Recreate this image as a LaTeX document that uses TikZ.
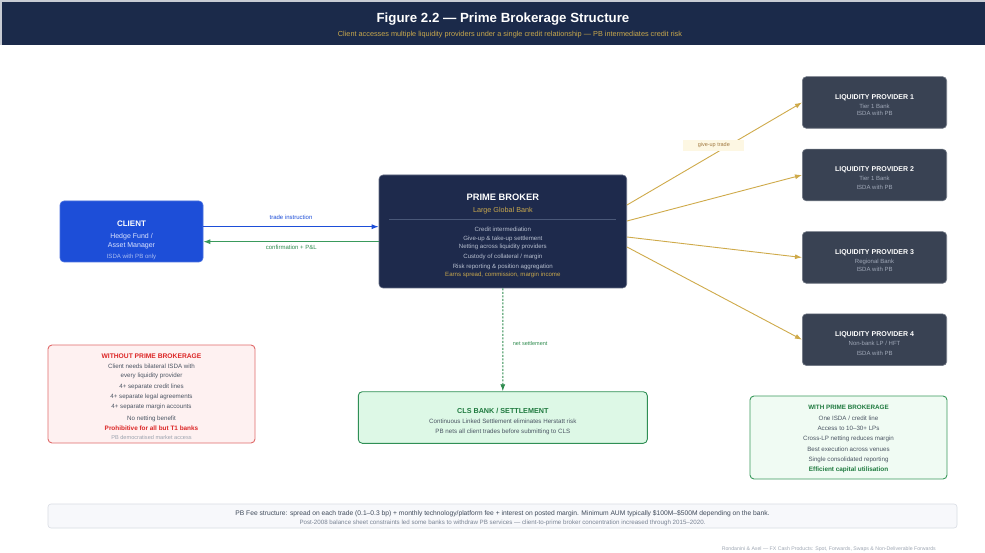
\documentclass[tikz,border=0pt]{standalone}
\usepackage{fontspec}
\setmainfont{Liberation Sans}
\usetikzlibrary{arrows.meta}

\definecolor{hdrnavy}{HTML}{1B2A4A}
\definecolor{pbnavy}{HTML}{1E2A4C}
\definecolor{gold}{HTML}{C9A84C}
\definecolor{pbitem}{HTML}{B8C0D0}
\definecolor{pbrule}{HTML}{4A5878}
\definecolor{clientblue}{HTML}{1D4ED8}
\definecolor{clientsub}{HTML}{DCE4FF}
\definecolor{clientisda}{HTML}{A9BCF0}
\definecolor{lpfill}{HTML}{394253}
\definecolor{lpsub}{HTML}{A0A8B8}
\definecolor{arrowgreen}{HTML}{3A9A5C}
\definecolor{labelgreen}{HTML}{2E8B4E}
\definecolor{arrowgold}{HTML}{CFAA4A}
\definecolor{giveupfill}{HTML}{FDF7E3}
\definecolor{giveuptext}{HTML}{A07840}
\definecolor{clsfill}{HTML}{DDF8E6}
\definecolor{clsborder}{HTML}{2F8F55}
\definecolor{darkgreen}{HTML}{1F7A3F}
\definecolor{bodygray}{HTML}{4B5563}
\definecolor{lightgray}{HTML}{9CA3AF}
\definecolor{redfill}{HTML}{FEF1F1}
\definecolor{redborder}{HTML}{E06A6A}
\definecolor{redtitle}{HTML}{DC2626}
\definecolor{withfill}{HTML}{F0FBF3}
\definecolor{footfill}{HTML}{F7F8FB}
\definecolor{footborder}{HTML}{D8DCE4}
\definecolor{footone}{HTML}{3F4A5A}
\definecolor{foottwo}{HTML}{7A8494}
\definecolor{credit}{HTML}{A0A8B4}
\definecolor{edge}{HTML}{C8CCD4}

\tikzset{
  fs/.style={font=\fontsize{#1}{#1}\selectfont},
  txt/.style={inner sep=0pt, anchor=base},
  box/.style={rectangle, rounded corners=4pt, inner sep=0pt},
  clientbox/.style={box, fill=clientblue, draw=clientblue!80!white, line width=0.6pt},
  pbbox/.style={box, fill=pbnavy, draw=pbnavy!70!white, line width=0.6pt},
  lpbox/.style={box, fill=lpfill, draw=lpfill!70!white, line width=0.6pt,
                minimum width=144.4pt, minimum height=51.6pt},
  notebox/.style={box, line width=0.9pt},
  tip/.style={-{Latex[length=7pt,width=5pt]}},
}

\begin{document}
\begin{tikzpicture}[x=1pt,y=-1pt]
  % canvas
  \fill[white] (0,0) rectangle (985,553);
  \useasboundingbox (0,0) rectangle (985,553);

  % header band
  \fill[edge] (0,0) rectangle (985,45);
  \fill[hdrnavy] (2,2) rectangle (985,45);
  \node[txt, fs=13.3, text=white] (title) at (503,22.6) {\bfseries Figure 2.2 — Prime Brokerage Structure};
  \node[txt, fs=7.3, text=gold] (subtitle) at (510,36.5) {Client accesses multiple liquidity providers under a single credit relationship — PB intermediates credit risk};

  % client
  \node[clientbox, minimum width=143pt, minimum height=61pt] (client) at (131.5,231.5) {};
  \node[txt, fs=8, text=white] (clientT) at (131.5,226.9) {\bfseries CLIENT};
  \node[txt, fs=7, text=clientsub] (clientA) at (131.5,238.5) {Hedge Fund /};
  \node[txt, fs=7, text=clientsub] (clientB) at (131.5,247.2) {Asset Manager};
  \node[txt, fs=6.1, text=clientisda] (clientC) at (131.5,258.1) {ISDA with PB only};

  % prime broker
  \node[pbbox, minimum width=247.7pt, minimum height=113pt] (pb) at (502.85,231.5) {};
  \node[txt, fs=9.3, text=white] (pbT) at (502.85,200.7) {\bfseries PRIME BROKER};
  \node[txt, fs=7.2, text=gold] (pbS) at (502.85,212.8) {Large Global Bank};
  \draw[pbrule, line width=0.6pt] (389,219.3) -- (616,219.3);
  \node[txt, fs=6.1, text=pbitem] (pb1) at (502.85,231.2) {Credit intermediation};
  \node[txt, fs=6.1, text=pbitem] (pb2) at (502.85,240.2) {Give-up \& take-up settlement};
  \node[txt, fs=6.1, text=pbitem] (pb3) at (502.85,248.9) {Netting across liquidity providers};
  \node[txt, fs=6.1, text=pbitem] (pb4) at (502.85,258.9) {Custody of collateral / margin};
  \node[txt, fs=6.1, text=pbitem] (pb5) at (502.85,268.2) {Risk reporting \& position aggregation};
  \node[txt, fs=6.1, text=gold] (pb6) at (502.85,276.9) {Earns spread, commission, margin income};

  % liquidity providers
  \node[lpbox] (lp1) at (874.5,102.5) {};
  \node[txt, fs=7, text=white] (lp1T) at (874.5,99.2) {\bfseries LIQUIDITY PROVIDER 1};
  \node[txt, fs=6, text=lpsub] (lp1A) at (874.5,108.1) {Tier 1 Bank};
  \node[txt, fs=6, text=lpsub] (lp1B) at (874.5,115.8) {ISDA with PB};

  \node[lpbox] (lp2) at (874.5,175) {};
  \node[txt, fs=7, text=white] (lp2T) at (874.5,171.2) {\bfseries LIQUIDITY PROVIDER 2};
  \node[txt, fs=6, text=lpsub] (lp2A) at (874.5,180.1) {Tier 1 Bank};
  \node[txt, fs=6, text=lpsub] (lp2B) at (874.5,189.4) {ISDA with PB};

  \node[lpbox] (lp3) at (874.5,257.5) {};
  \node[txt, fs=7, text=white] (lp3T) at (874.5,254.2) {\bfseries LIQUIDITY PROVIDER 3};
  \node[txt, fs=6, text=lpsub] (lp3A) at (874.5,263.1) {Regional Bank};
  \node[txt, fs=6, text=lpsub] (lp3B) at (874.5,271.8) {ISDA with PB};

  \node[lpbox] (lp4) at (874.5,339.7) {};
  \node[txt, fs=7, text=white] (lp4T) at (874.5,336.2) {\bfseries LIQUIDITY PROVIDER 4};
  \node[txt, fs=6, text=lpsub] (lp4A) at (874.5,345.1) {Non-bank LP / HFT};
  \node[txt, fs=6, text=lpsub] (lp4B) at (874.5,355.1) {ISDA with PB};

  % client <-> prime broker
  \coordinate (ti) at ([yshift=4.8pt]client.east);
  \coordinate (cf) at ([yshift=-10.2pt]client.east);
  \draw[tip, clientblue, line width=1pt] (ti) -- (ti -| pb.west);
  \draw[tip, arrowgreen, line width=1pt] (cf -| pb.west) -- (cf);
  \node[txt, fs=6, text=clientblue] (tiL) at (291,219.8) {trade instruction};
  \node[txt, fs=6, text=labelgreen] (cfL) at (291.3,249.8) {confirmation + P\&L};

  % prime broker -> liquidity providers
  \draw[tip, arrowgold, line width=0.9pt] ([yshift=26.5pt]pb.east) -- (lp1.west);
  \draw[tip, arrowgold, line width=0.9pt] ([yshift=10.5pt]pb.east) -- (lp2.west);
  \draw[tip, arrowgold, line width=0.9pt] ([yshift=-5.5pt]pb.east) -- (lp3.west);
  \draw[tip, arrowgold, line width=0.9pt] ([yshift=-15.5pt]pb.east) -- (lp4.west);
  \node[fill=giveupfill, inner sep=0pt, minimum width=61pt, minimum height=11pt,
        fs=5.5, text=giveuptext] (giveup) at (713.8,145.5) {give-up trade};

  % settlement
  \node[notebox, fill=clsfill, draw=clsborder, minimum width=289pt, minimum height=51.6pt] (cls) at (502.8,417.5) {};
  \draw[tip, labelgreen, line width=0.9pt, dash pattern=on 2pt off 1.5pt] (pb.south) -- (cls.north);
  \node[txt, fs=5.5, text=labelgreen, anchor=base west] (netL) at (512.7,345.2) {net settlement};
  \node[txt, fs=7.2, text=darkgreen] (clsT) at (502.8,413.3) {\bfseries CLS BANK / SETTLEMENT};
  \node[txt, fs=6.2, text=bodygray] (cls1) at (502.8,423.5) {Continuous Linked Settlement eliminates Herstatt risk};
  \node[txt, fs=6.2, text=bodygray] (cls2) at (502.8,433.5) {PB nets all client trades before submitting to CLS};

  % without prime brokerage
  \node[notebox, fill=redfill, draw=redborder, minimum width=207pt, minimum height=98pt] (without) at (151.5,394) {};
  \node[txt, fs=6.7, text=redtitle] (woT) at (151.5,358.4) {\bfseries WITHOUT PRIME BROKERAGE};
  \node[txt, fs=6.2, text=bodygray] (wo1) at (151.5,368.2) {Client needs bilateral ISDA with};
  \node[txt, fs=6.2, text=bodygray] (wo2) at (151.5,377.7) {every liquidity provider};
  \node[txt, fs=6.2, text=bodygray] (wo3) at (151.5,388.8) {4+ separate credit lines};
  \node[txt, fs=6.2, text=bodygray] (wo4) at (151.5,398.8) {4+ separate legal agreements};
  \node[txt, fs=6.2, text=bodygray] (wo5) at (151.5,408.8) {4+ separate margin accounts};
  \node[txt, fs=6.2, text=bodygray] (wo6) at (151.5,420.1) {No netting benefit};
  \node[txt, fs=6.4, text=redtitle] (wo7) at (151.5,430.2) {\bfseries Prohibitive for all but T1 banks};
  \node[txt, fs=5.6, text=lightgray] (wo8) at (151.5,439.1) {PB democratised market access};

  % with prime brokerage
  \node[notebox, fill=withfill, draw=arrowgreen, minimum width=197pt, minimum height=83pt] (with) at (848.5,437.5) {};
  \node[txt, fs=6.3, text=darkgreen] (wiT) at (848.5,409.3) {\bfseries WITH PRIME BROKERAGE};
  \node[txt, fs=6.2, text=bodygray] (wi1) at (848.5,420.2) {One ISDA / credit line};
  \node[txt, fs=6.2, text=bodygray] (wi2) at (848.5,430.5) {Access to 10–30+ LPs};
  \node[txt, fs=6.2, text=bodygray] (wi3) at (848.5,440.5) {Cross-LP netting reduces margin};
  \node[txt, fs=6.2, text=bodygray] (wi4) at (848.5,451.5) {Best execution across venues};
  \node[txt, fs=6.2, text=bodygray] (wi5) at (848.5,461.5) {Single consolidated reporting};
  \node[txt, fs=6.4, text=darkgreen] (wi6) at (848.5,471.9) {\bfseries Efficient capital utilisation};

  % footer
  \node[box, rounded corners=3pt, fill=footfill, draw=footborder, line width=0.6pt,
        minimum width=909pt, minimum height=24pt] (foot) at (502.5,516) {};
  \node[txt, fs=6.7, text=footone] (foot1) at (502.5,515.3) {PB Fee structure: spread on each trade (0.1–0.3 bp) + monthly technology/platform fee + interest on posted margin. Minimum AUM typically \$100M–\$500M depending on the bank.};
  \node[txt, fs=6.2, text=foottwo] (foot2) at (502.5,524.3) {Post-2008 balance sheet constraints led some banks to withdraw PB services — client-to-prime broker concentration increased through 2015–2020.};
  \node[txt, fs=5.2, text=credit, anchor=base east] (creditL) at (936,550.7) {Rondanini \& Axel — FX Cash Products: Spot, Forwards, Swaps \& Non-Deliverable Forwards};
\end{tikzpicture}
\end{document}
